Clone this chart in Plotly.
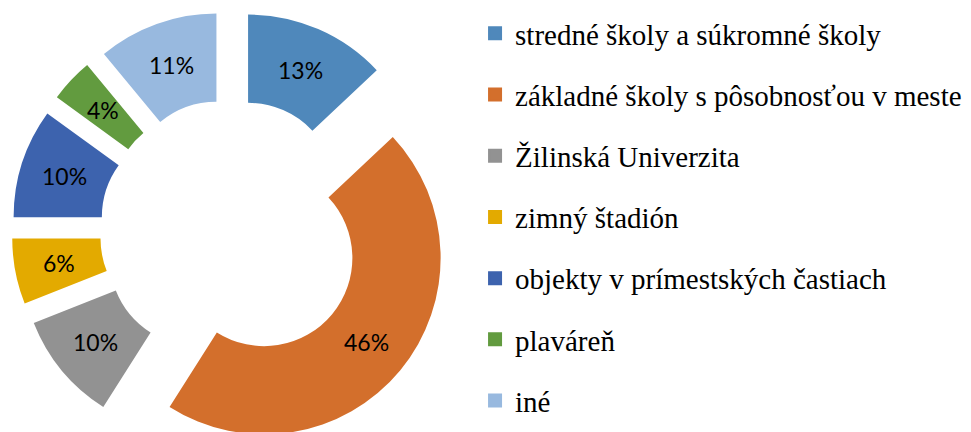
import math
import plotly.graph_objects as go

# ---- data ----
categories = [
    "stredné školy a súkromné školy",
    "základné školy s pôsobnosťou v meste",
    "Žilinská Univerzita",
    "zimný štadión",
    "objekty v prímestských častiach",
    "plaváreň",
    "iné",
]
shares = [13, 46, 10, 6, 10, 4, 11]
colors = ["#4F88BB", "#D36F2C", "#929292", "#E3AA00", "#3D63AE", "#629B3F", "#98B9DF"]

# ---- layout constants (pixels in figure space) ----
W, H = 971, 432
CX, CY = 223, 222.5    # centre of the (unexploded) ring
R_OUT = 176.5          # outer radius
PULL = 43              # explosion distance
HOLE = 0.5

total = sum(shares)
fig = go.Figure()
annotations = []

cum = 0
for cat, v, col in zip(categories, shares, colors):
    a0 = cum / total * 360.0
    mid = math.radians((cum + v / 2.0) / total * 360.0)
    cum += v
    cx = CX + PULL * math.sin(mid)
    cy = CY - PULL * math.cos(mid)
    dom = dict(
        x=[(cx - R_OUT) / W, (cx + R_OUT) / W],
        y=[1 - (cy + R_OUT) / H, 1 - (cy - R_OUT) / H],
    )
    fig.add_trace(go.Pie(
        labels=[cat, "rest"],
        values=[v, total - v],
        rotation=a0,
        direction="clockwise",
        sort=False,
        hole=HOLE,
        marker=dict(colors=[col, "rgba(0,0,0,0)"], line=dict(width=0)),
        textinfo="none",
        domain=dom,
        showlegend=False,
        hoverinfo="skip",
    ))
    # percentage label in the middle of the ring segment
    rm = R_OUT * (1 + HOLE) / 2.0
    tx = cx + rm * math.sin(mid)
    ty = cy - rm * math.cos(mid)
    annotations.append(dict(
        x=tx / W, y=1 - ty / H, xref="paper", yref="paper",
        text=f"{v}%", showarrow=False,
        xanchor="center", yanchor="middle",
        font=dict(family="Lato", size=23, color="black"),
    ))

# legend entries (one tiny pie per category so the rows can be spaced)
for k, (cat, v, col) in enumerate(zip(categories, shares, colors)):
    fig.add_trace(go.Pie(
        labels=[cat],
        values=[v],
        marker=dict(colors=[col], line=dict(width=2, color=col)),
        textinfo="none",
        domain=dict(x=[0.9995, 1.0], y=[0.0, 0.0005]),
        legendgroup=f"g{k}",
        showlegend=True,
        hoverinfo="skip",
    ))

fig.update_layout(
    width=W,
    height=H,
    margin=dict(l=0, r=0, t=0, b=0, autoexpand=False),
    paper_bgcolor="white",
    plot_bgcolor="white",
    annotations=annotations,
    legend=dict(
        x=0.481,
        xanchor="left",
        y=1.0,
        yanchor="top",
        traceorder="grouped",
        tracegroupgap=20.5,
        font=dict(family="Liberation Serif", size=29, color="black"),
        bgcolor="rgba(0,0,0,0)",
    ),
)

fig.write_html("out.html")
